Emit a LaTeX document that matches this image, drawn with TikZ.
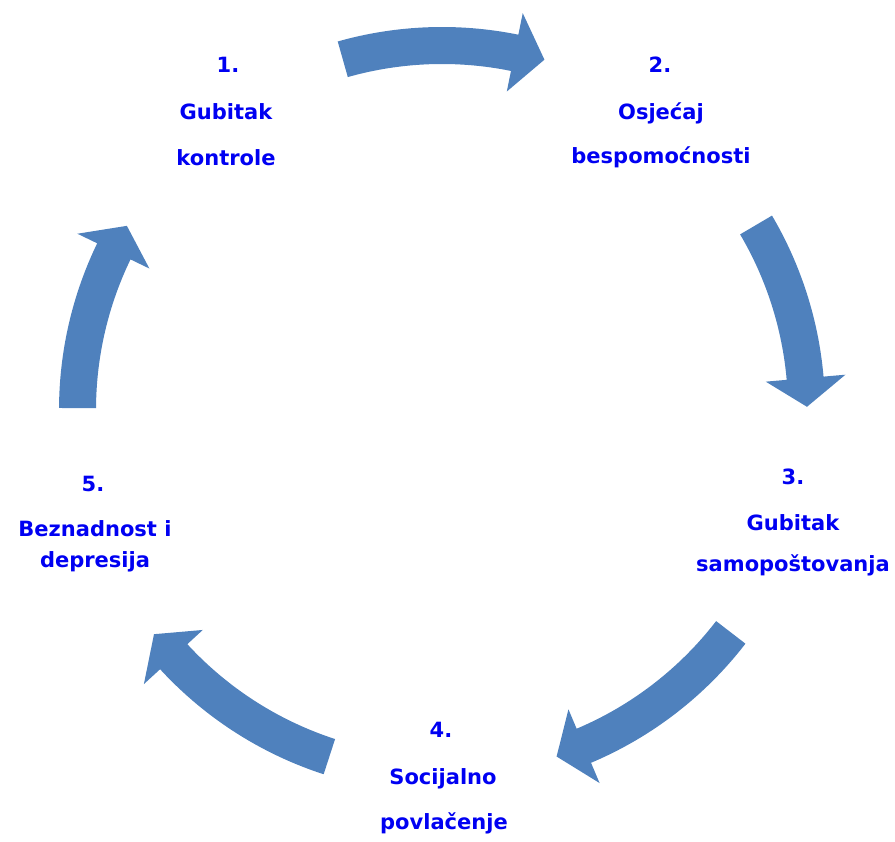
\documentclass[tikz,border=0pt]{standalone}
\usepackage{fontspec}
\setmainfont{DejaVu Sans}
\definecolor{arrowblue}{HTML}{4F81BD}
\definecolor{txtblue}{HTML}{0000F2}
\newcommand\cyclearrow[3]{% tail angle, head-base angle, tip angle
  \fill[arrowblue] (#1:383) arc[start angle=#1,end angle=#2,radius=383]
    -- (#2:405) -- (#3:365) -- (#2:325) -- (#2:346)
    arc[start angle=#2,end angle=#1,radius=346] -- cycle;}
\begin{document}
\begin{tikzpicture}[x=1pt,y=1pt,
  lbl/.style={anchor=base,text=txtblue,font=\bfseries\fontsize{21}{25}\selectfont,inner sep=0pt}]
\useasboundingbox (0,0) rectangle (895,842);
\begin{scope}[shift={(442,432)}]
  \cyclearrow{105.8}{78.5}{73.7}
  \cyclearrow{30.5}{5.0}{0.5}
  \cyclearrow{-37.6}{-67.1}{-71.7}
  \cyclearrow{-108}{-137.4}{-142.1}
  \cyclearrow{-180.3}{-205.8}{-210.3}
\end{scope}
% 1
\node[lbl] (n1a) at (228,769) {1.};
\node[lbl] (n1b) at (226,722) {Gubitak};
\node[lbl] (n1c) at (226,676) {kontrole};
% 2
\node[lbl] (n2a) at (660,769) {2.};
\node[lbl] (n2b) at (661,722) {Osjećaj};
\node[lbl] (n2c) at (661,678) {bespomoćnosti};
% 3
\node[lbl] (n3a) at (793,357) {3.};
\node[lbl] (n3b) at (793,311) {Gubitak};
\node[lbl] (n3c) at (793,270) {samopoštovanja};
% 4
\node[lbl] (n4a) at (441,104) {4.};
\node[lbl] (n4b) at (443,57) {Socijalno};
\node[lbl] (n4c) at (444,12) {povlačenje};
% 5
\node[lbl] (n5a) at (93,350) {5.};
\node[lbl] (n5b) at (95,305) {Beznadnost i};
\node[lbl] (n5c) at (95,274) {depresija};
\end{tikzpicture}
\end{document}
